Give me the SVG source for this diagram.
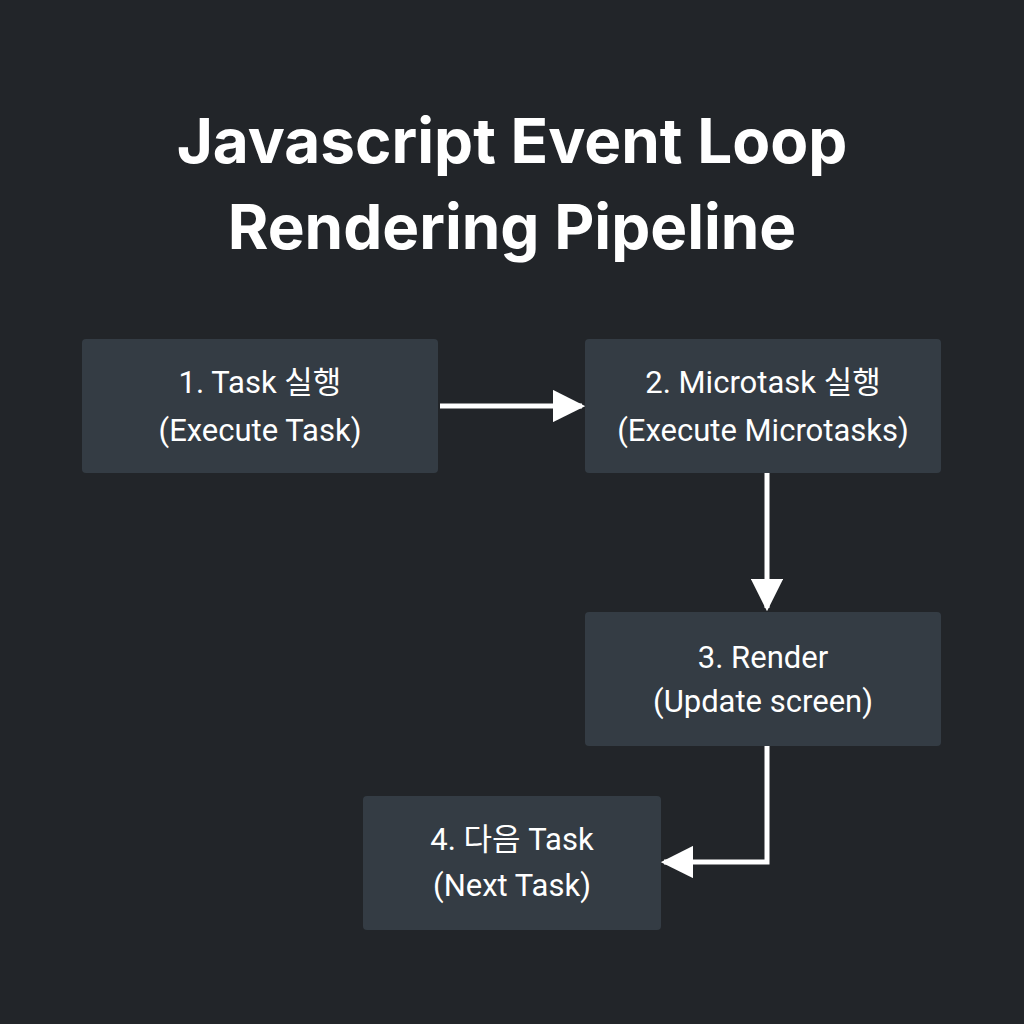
<svg xmlns="http://www.w3.org/2000/svg" width="1024" height="1024" viewBox="0 0 1024 1024">
<style>
.box{fill:#343c44}
.t{font-family:Roboto,"Noto Sans","Noto Sans CJK KR",sans-serif;font-size:31px;fill:#ffffff;text-anchor:middle}
.title{font-family:Inter,"Liberation Sans",sans-serif;font-size:62px;font-weight:700;fill:#ffffff;text-anchor:middle}
.c{stroke:#ffffff;stroke-width:5;fill:none}
</style>
<defs><marker id="a" viewBox="0 0 10 10" refX="9" refY="5" markerWidth="7" markerHeight="7" markerUnits="userSpaceOnUse" orient="auto"><path d="M0,0 L10,5 L0,10 z" fill="#fff"/></marker>
<marker id="b" viewBox="0 0 10 10" refX="9" refY="5" markerWidth="6.5" markerHeight="6.5" orient="auto"><path d="M0,0 L10,5 L0,10 z" fill="#fff"/></marker></defs>
<rect width="1024" height="1024" fill="#222529"/>
<text class="title" x="512" y="163">Javascript Event Loop</text>
<text class="title" x="512" y="249">Rendering Pipeline</text>
<g id="n1"><rect class="box" x="82" y="339" width="356" height="134" rx="4"/><text class="t" x="260" y="393">1. Task 실행</text><text class="t" x="260" y="441">(Execute Task)</text></g>
<g id="n2"><rect class="box" x="585" y="339" width="356" height="134" rx="4"/><text class="t" x="763" y="393">2. Microtask 실행</text><text class="t" x="763" y="441">(Execute Microtasks)</text></g>
<g id="n3"><rect class="box" x="585" y="612" width="356" height="134" rx="4"/><text class="t" x="763" y="668">3. Render</text><text class="t" x="763" y="712">(Update screen)</text></g>
<g id="n4"><rect class="box" x="363" y="796" width="298" height="134" rx="4"/><text class="t" x="512" y="850">4. 다음 Task</text><text class="t" x="512" y="896">(Next Task)</text></g>
<g id="connectors">
<path class="c" d="M440,406 H582" marker-end="url(#b)"/>
<path class="c" d="M767,473 V608" marker-end="url(#b)"/>
<path class="c" d="M767,746 V862 H664" marker-end="url(#b)"/>
</g>
</svg>
